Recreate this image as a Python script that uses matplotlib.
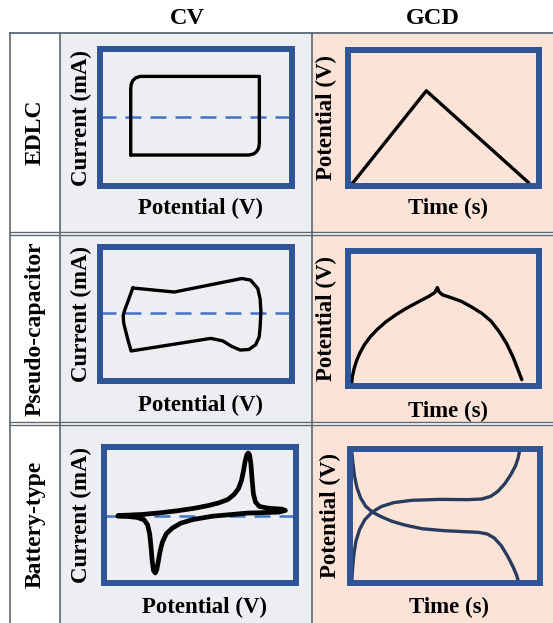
import numpy as np
import matplotlib.pyplot as plt
from matplotlib.patches import Rectangle

plt.rcParams['font.family'] = ['Liberation Serif', 'DejaVu Serif']
plt.rcParams['font.weight'] = 'bold'
plt.rcParams['lines.scale_dashes'] = False

# --- labels ---
col_titles = ['CV', 'GCD']
row_titles = ['EDLC', 'Pseudo-capacitor', 'Battery-type']
cv_xlabel, cv_ylabel = 'Potential (V)', 'Current (mA)'
gcd_xlabel, gcd_ylabel = 'Time (s)', 'Potential (V)'

# --- curves (axes run 0..1) ---
edlc_cv_x = [0.16, 0.16, 0.163, 0.172, 0.187, 0.21, 0.83, 0.83, 0.826, 0.815, 0.80, 0.775, 0.16]
edlc_cv_y = [0.226, 0.71, 0.745, 0.772, 0.79, 0.80, 0.80, 0.31, 0.275, 0.25, 0.234, 0.226, 0.226]
edlc_gcd_t = [0.018, 0.41, 0.946]
edlc_gcd_v = [0.01, 0.70, 0.024]

pseudo_cv_x = [0.171, 0.387, 0.739, 0.784, 0.822, 0.834, 0.838, 0.834, 0.829, 0.811, 0.775,
               0.730, 0.685, 0.640, 0.577, 0.162, 0.148, 0.135, 0.123, 0.121, 0.130,
               0.144, 0.159, 0.171]
pseudo_cv_y = [0.694, 0.664, 0.765, 0.753, 0.690, 0.612, 0.518, 0.400, 0.329, 0.271, 0.235,
               0.231, 0.259, 0.299, 0.318, 0.224, 0.294, 0.365, 0.435, 0.489, 0.534,
               0.588, 0.647, 0.694]
pseudo_gcd_t = [0.018, 0.023, 0.032, 0.045, 0.063, 0.086, 0.117, 0.153, 0.198, 0.252,
                0.306, 0.369, 0.423, 0.454, 0.468, 0.476, 0.495, 0.541, 0.595, 0.649,
                0.703, 0.748, 0.793, 0.829, 0.865, 0.910]
pseudo_gcd_v = [0.005, 0.071, 0.129, 0.188, 0.247, 0.306, 0.365, 0.419, 0.475, 0.529,
                0.576, 0.624, 0.664, 0.692, 0.729, 0.699, 0.675, 0.654, 0.626, 0.584,
                0.536, 0.482, 0.400, 0.318, 0.212, 0.047]

battery_cv_x = [0.073, 0.200, 0.291, 0.382, 0.473, 0.545, 0.600, 0.645, 0.676, 0.700,
                0.716, 0.727, 0.736, 0.744, 0.751, 0.758, 0.765, 0.771, 0.778, 0.789,
                0.809, 0.855, 0.927, 0.945,
                0.909, 0.745, 0.564, 0.464, 0.400, 0.355, 0.324, 0.304, 0.291, 0.282,
                0.275, 0.267, 0.258, 0.251, 0.245, 0.238, 0.227, 0.209, 0.173, 0.127,
                0.073]
battery_cv_y = [0.496, 0.504, 0.516, 0.531, 0.550, 0.570, 0.590, 0.614, 0.649, 0.693,
                0.754, 0.828, 0.902, 0.943, 0.956, 0.943, 0.877, 0.767, 0.656, 0.595,
                0.563, 0.550, 0.543, 0.533,
                0.521, 0.514, 0.491, 0.467, 0.440, 0.403, 0.361, 0.300, 0.226, 0.152,
                0.098, 0.074, 0.091, 0.165, 0.263, 0.361, 0.428, 0.464, 0.482, 0.489,
                0.491]
battery_dis_t = [0.009, 0.015, 0.024, 0.037, 0.056, 0.083, 0.120, 0.167, 0.222, 0.287,
                 0.380, 0.491, 0.602, 0.676, 0.722, 0.759, 0.796, 0.830, 0.857, 0.876,
                 0.889]
battery_dis_v = [0.990, 0.896, 0.796, 0.709, 0.634, 0.572, 0.527, 0.493, 0.460, 0.433,
                 0.405, 0.391, 0.383, 0.378, 0.366, 0.336, 0.279, 0.199, 0.124, 0.062,
                 0.000]
battery_chg_t = [0.009, 0.013, 0.020, 0.031, 0.050, 0.078, 0.117, 0.167, 0.231, 0.324,
                 0.472, 0.620, 0.694, 0.741, 0.778, 0.815, 0.846, 0.870, 0.885, 0.894]
battery_chg_v = [0.000, 0.100, 0.211, 0.311, 0.398, 0.473, 0.530, 0.572, 0.600, 0.617,
                 0.624, 0.622, 0.627, 0.647, 0.684, 0.741, 0.808, 0.871, 0.933, 0.995]
zero_line = [0.507, 0.506, 0.496]

W, H = 553, 623
fig = plt.figure(figsize=(W / 100, H / 100), dpi=100)

# background table drawn in pixel coords
bg = fig.add_axes([0, 0, 1, 1])
bg.set_xlim(0, W)
bg.set_ylim(H, 0)
bg.axis('off')

grey, peach = '#EDEEF1', '#FBE4D7'
line_c = '#5D6873'
rows = [(33, 232), (235, 422), (425, 626)]
for top, bot in rows:
    bg.add_patch(Rectangle((60, top), 252, bot - top, color=grey, lw=0))
    bg.add_patch(Rectangle((312, top), W - 312, bot - top, color=peach, lw=0))
bg.plot([10, W], [33, 33], color=line_c, lw=1.3)
for y in [232, 235, 422, 425]:
    bg.plot([10, W], [y, y], color=line_c, lw=1.0)
for x in [10, 60, 312]:
    bg.plot([x, x], [33, H], color=line_c, lw=1.2)

bg.text(187, 18, col_titles[0], ha='center', va='center', fontsize=17.5)
bg.text(433, 18, col_titles[1], ha='center', va='center', fontsize=17.5)
for (top, bot), name in zip([(33, 232), (235, 422), (425, 623)], row_titles):
    bg.text(35, (top + bot) / 2, name, rotation=90, ha='center', va='center', fontsize=17)

# axes frames in pixels: (left, right, top, bottom)
cv_boxes = [(100, 292, 49, 186), (100, 292, 247, 381), (104, 296, 447, 583)]
gcd_boxes = [(348, 539, 50, 186), (348, 539, 251, 386), (350, 540, 449, 583)]
cv_xlab_y = [208, 405, 607]
gcd_xlab_y = [208, 411, 607]
cv_ylab_x = [81, 81, 81]
gcd_ylab_x = [326, 326, 330]

frame_c = '#2F5597'
curve_c = '#2A3B60'


def make_ax(box):
    l, r, t, b = box
    ax = fig.add_axes([l / W, 1 - b / H, (r - l) / W, (b - t) / H])
    ax.set_xlim(0, 1)
    ax.set_ylim(0, 1)
    ax.set_facecolor('none')
    ax.set_xticks([])
    ax.set_yticks([])
    for s in ax.spines.values():
        s.set_color(frame_c)
        s.set_linewidth(4.3)
    return ax


cv_curves = [(edlc_cv_x, edlc_cv_y, 2.4), (pseudo_cv_x, pseudo_cv_y, 2.4),
             (battery_cv_x, battery_cv_y, 3.4)]
for i in range(3):
    ax = make_ax(cv_boxes[i])
    ax.axhline(zero_line[i], color='#4472C4', lw=1.8, dashes=(11.5, 6.5))
    x, y, lw = cv_curves[i]
    ax.plot(x, y, color='black', lw=lw, solid_joinstyle='round', solid_capstyle='round',
            clip_on=False)
    l, r, t, b = cv_boxes[i]
    bg.text((l + r) / 2 + 4, cv_xlab_y[i], cv_xlabel, ha='center', va='center', fontsize=16.5)
    bg.text(cv_ylab_x[i], (t + b) / 2, cv_ylabel, rotation=90, ha='center', va='center',
            fontsize=16.5)

for i in range(3):
    ax = make_ax(gcd_boxes[i])
    kw = dict(lw=2.4, solid_joinstyle='round', solid_capstyle='round', clip_on=False)
    if i == 0:
        ax.plot(edlc_gcd_t, edlc_gcd_v, color='black', **kw)
    elif i == 1:
        ax.plot(pseudo_gcd_t, pseudo_gcd_v, color='black', **kw)
    else:
        ax.plot(battery_dis_t, battery_dis_v, color=curve_c, **kw)
        ax.plot(battery_chg_t, battery_chg_v, color=curve_c, **kw)
    l, r, t, b = gcd_boxes[i]
    bg.text((l + r) / 2 + 4, gcd_xlab_y[i], gcd_xlabel, ha='center', va='center', fontsize=16.5)
    bg.text(gcd_ylab_x[i], (t + b) / 2, gcd_ylabel, rotation=90, ha='center', va='center',
            fontsize=16.5)

fig.savefig('out.png', dpi=100)
